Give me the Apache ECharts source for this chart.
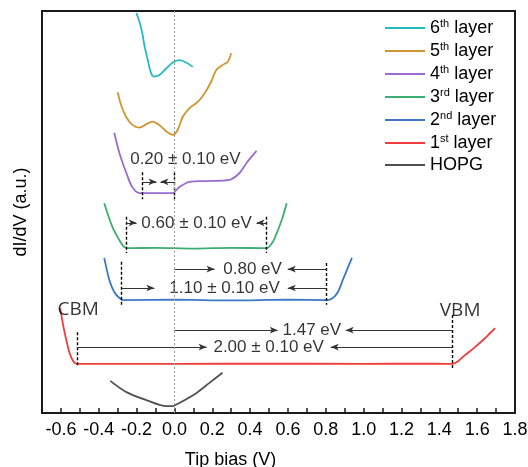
<!DOCTYPE html>
<html>
<head>
<meta charset="utf-8">
<script src="https://cdn.jsdelivr.net/npm/echarts@6/dist/echarts.min.js"></script>
<style>
  html, body { margin: 0; padding: 0; background: #fff; }
  #chart { width: 528px; height: 467px; }
</style>
</head>
<body>
<div id="chart"></div>
<script>
(() => {
    // tip bias (V), dI/dV (a.u., curves stacked with offsets)
    const layer6 = [[-0.201, 99.5], [-0.185, 97.3], [-0.170, 94.5], [-0.159, 91.5], [-0.141, 87.8], [-0.123, 84.5],
        [-0.106, 83.7], [-0.079, 84.1], [-0.044, 85.7], [-0.009, 87.2], [0.026, 87.8], [0.062, 87.2], [0.097, 86.1]];
    const layer5 = [[-0.300, 79.8], [-0.282, 76.6], [-0.256, 73.7], [-0.221, 71.6], [-0.185, 71.0], [-0.150, 71.8],
        [-0.115, 72.5], [-0.079, 71.6], [-0.044, 70.1], [-0.009, 69.2], [0.017, 70.4], [0.044, 73.7], [0.079, 75.8],
        [0.123, 77.4], [0.159, 79.5], [0.194, 82.4], [0.221, 85.3], [0.256, 86.6], [0.282, 87.4], [0.300, 89.5]];
    const layer4 = [[-0.318, 69.7], [-0.291, 64.7], [-0.254, 59.7], [-0.223, 56.2], [-0.185, 54.7], [-0.095, 54.7],
        [-0.011, 54.7], [0.026, 56.2], [0.079, 57.5], [0.170, 57.7], [0.291, 58.0], [0.344, 59.7], [0.381, 62.2],
        [0.434, 65.2]];
    const layer3 = [[-0.371, 52.2], [-0.328, 46.3], [-0.291, 43.0], [-0.270, 41.5], [-0.249, 41.0], [-0.1, 41.1],
        [0.1, 40.9], [0.3, 41.1], [0.487, 41.0], [0.509, 41.8], [0.530, 43.5], [0.567, 48.0], [0.593, 52.2]];
    const layer2 = [[-0.371, 38.6], [-0.344, 33.1], [-0.318, 30.1], [-0.291, 28.6], [-0.270, 28.1], [0.0, 28.2],
        [0.3, 28.0], [0.6, 28.2], [0.805, 28.1], [0.837, 28.6], [0.864, 30.1], [0.890, 33.1], [0.938, 38.6]];
    const layer1 = [[-0.604, 26.1], [-0.583, 20.6], [-0.556, 15.2], [-0.535, 12.9], [-0.514, 12.2], [0.0, 12.2],
        [0.5, 12.3], [1.0, 12.2], [1.3, 12.3], [1.468, 12.2], [1.499, 12.9], [1.531, 14.2], [1.584, 16.2],
        [1.637, 18.4], [1.669, 19.9], [1.695, 21.1]];
    const hopg = [[-0.339, 8.0], [-0.254, 5.2], [-0.148, 3.2], [-0.042, 1.7], [-0.011, 1.7], [0.026, 2.5],
        [0.117, 5.0], [0.185, 7.5], [0.254, 10.0]];

    const seriesNames = ['6th layer', '5th layer', '4th layer', '3rd layer', '2nd layer', '1st layer', 'HOPG'];
    const seriesData = [layer6, layer5, layer4, layer3, layer2, layer1, hopg];
    const colors = ['#22bcc0', '#d09530', '#9b6cd0', '#3dae72', '#3d78c8', '#f03c3c', '#505050'];

    // annotations: dashed edges [x, yFrom, yTo], arrows [xFrom, xTo, y], notes [x, y, text]
    const dashLines = [[-0.17, 59.9, 53.2], [0.0, 59.9, 53.2], [-0.254, 48.8, 39.8], [0.487, 48.8, 39.8],
        [-0.28, 37.6, 26.4], [0.805, 37.3, 26.9], [-0.514, 20.1, 11.9], [1.468, 24.4, 11.2]];
    const arrows = [[-0.17, -0.095, 57.5], [0.0, -0.074, 57.5], [-0.254, -0.20, 47.3], [0.487, 0.434, 47.3],
        [0.0, 0.212, 35.8], [0.805, 0.599, 35.8], [-0.28, -0.106, 31.1], [0.805, 0.599, 31.1],
        [0.0, 0.546, 20.6], [1.468, 0.905, 20.6], [-0.514, 0.170, 16.4], [1.468, 0.826, 16.4]];
    const notes = [[0.058, 63.2, '0.20 ± 0.10 eV'], [0.117, 47.3, '0.60 ± 0.10 eV'], [0.413, 35.8, '0.80 eV'],
        [0.265, 31.1, '1.10 ± 0.10 eV'], [0.726, 20.6, '1.47 eV'], [0.498, 16.4, '2.00 ± 0.10 eV']];
    const edgeLabels = [[-0.509, 25.6, 'CBM'], [1.51, 25.4, 'VBM']];

    const FONT = 'Liberation Sans, Arial, sans-serif';

    let chart = echarts.init(document.getElementById('chart'));

    let series = seriesData.map((d, i) => ({
        name: seriesNames[i],
        type: 'line',
        data: d,
        symbol: 'none',
        smooth: 0.3,
        lineStyle: {width: 1.8, color: colors[i]},
        itemStyle: {color: colors[i]},
        z: 3
    }));

    let markLines = [];
    dashLines.forEach(d => {
        markLines.push([
            {coord: [d[0], d[1]], symbol: 'none', lineStyle: {type: [3, 2], color: '#000', width: 1.4}},
            {coord: [d[0], d[2]], symbol: 'none'}
        ]);
    });
    arrows.forEach(a => {
        markLines.push([
            {coord: [a[0], a[2]], symbol: 'none', lineStyle: {type: 'solid', color: '#333', width: 1}},
            {coord: [a[1], a[2]], symbol: 'arrow', symbolSize: [5, 8]}
        ]);
    });
    markLines.push({xAxis: 0, symbol: 'none', lineStyle: {type: [2, 2], color: '#999', width: 1}});

    series.push({
        name: 'notes',
        type: 'scatter',
        data: notes.map(n => ({value: [n[0], n[1]], name: n[2]})),
        symbolSize: 0,
        silent: true,
        label: {
            show: true,
            position: 'inside',
            formatter: p => p.name,
            fontFamily: FONT,
            fontSize: 17,
            color: '#000',
            textBorderWidth: 0
        },
        markLine: {
            silent: true,
            animation: false,
            symbol: ['none', 'none'],
            label: {show: false},
            data: markLines
        },
        z: 4
    });
    series.push({
        name: 'edges',
        type: 'scatter',
        data: edgeLabels.map(n => ({value: [n[0], n[1]], name: n[2]})),
        symbolSize: 0,
        silent: true,
        label: {
            show: true,
            position: 'inside',
            formatter: p => p.name,
            fontFamily: 'Open Sans, sans-serif',
            fontSize: 19,
            color: '#000',
            textBorderWidth: 0
        },
        z: 4
    });

    let option = {
        animation: false,
        backgroundColor: '#fff',
        grid: {
            left: 42, right: 13, top: 11, bottom: 54,
            outerBoundsMode: 'none',
            containLabel: false,
            show: true, borderColor: '#1a1a1a', borderWidth: 2
        },
        legend: {
            data: seriesNames,
            orient: 'vertical',
            left: 385,
            top: 18,
            padding: 0,
            icon: 'rect',
            itemWidth: 40,
            itemHeight: 2,
            itemGap: 4,
            formatter: name => {
                let m = name.match(/^(\d)(st|nd|rd|th) (.*)$/);
                if (!m) return '{a|' + name + '}';
                return '{a|' + m[1] + '}{s|' + m[2] + '}{a| ' + m[3] + '}';
            },
            textStyle: {
                rich: {
                    a: {fontFamily: FONT, fontSize: 18, color: '#000', lineHeight: 20},
                    s: {fontFamily: FONT, fontSize: 11, color: '#000', lineHeight: 12, verticalAlign: 'top'}
                }
            }
        },
        xAxis: {
            type: 'value',
            min: -0.7,
            max: 1.8,
            interval: 0.1,
            name: 'Tip bias (V)',
            nameLocation: 'middle',
            nameGap: 38,
            nameTextStyle: {fontFamily: FONT, fontSize: 18, color: '#000', padding: [0, 96, 0, 0]},
            axisLine: {show: true, lineStyle: {color: '#1a1a1a', width: 2}},
            axisTick: {show: true, inside: true, length: 5, lineStyle: {color: '#1a1a1a', width: 1.5}},
            axisLabel: {
                fontFamily: FONT,
                fontSize: 18,
                color: '#000',
                margin: 8,
                formatter: v => (Math.round(v * 10) % 2 === 0 ? v.toFixed(1) : '')
            },
            splitLine: {show: false}
        },
        yAxis: {
            type: 'value',
            min: 0,
            max: 100,
            name: 'dI/dV (a.u.)',
            nameLocation: 'middle',
            nameGap: 12,
            nameTextStyle: {fontFamily: FONT, fontSize: 18, color: '#000'},
            axisLine: {show: false},
            axisTick: {show: false},
            axisLabel: {show: false},
            splitLine: {show: false}
        },
        series: series
    };
    chart.setOption(option);
})();
</script>
</body>
</html>
